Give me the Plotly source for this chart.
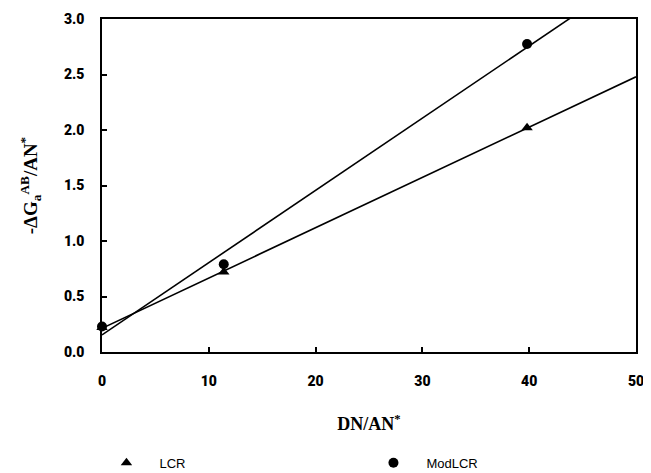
import numpy as np
import plotly.graph_objects as go

# Data
dn_an = [0.0, 11.4, 39.8]
lcr = [0.22, 0.72, 2.02]
modlcr = [0.23, 0.79, 2.775]
x_ticks = [0, 10, 20, 30, 40, 50]
y_ticks = [0.0, 0.5, 1.0, 1.5, 2.0, 2.5, 3.0]
x_range = [0, 50]
y_range = [0, 3.0]

fit_x = np.array(x_range, dtype=float)
lcr_fit = np.polyval(np.polyfit(dn_an, lcr, 1), fit_x)
mod_fit = np.polyval(np.polyfit(dn_an, modlcr, 1), fit_x)

fig = go.Figure()
fig.add_trace(go.Scatter(x=fit_x, y=lcr_fit, mode="lines", line=dict(color="black", width=1.6),
                         showlegend=False, hoverinfo="skip"))
fig.add_trace(go.Scatter(x=fit_x, y=mod_fit, mode="lines", line=dict(color="black", width=1.6),
                         showlegend=False, hoverinfo="skip"))
fig.add_trace(go.Scatter(x=dn_an, y=lcr, mode="markers", name="LCR",
                         marker=dict(symbol="triangle-up", size=10, color="black"),
                         cliponaxis=False))
fig.add_trace(go.Scatter(x=dn_an, y=modlcr, mode="markers", name="ModLCR",
                         marker=dict(symbol="circle", size=10, color="black"),
                         cliponaxis=False))

tickfont = dict(family="Roboto", size=14, color="black", weight=900)
axis_common = dict(showgrid=False, zeroline=False, showline=True, linecolor="black", linewidth=1.5,
                   mirror=True, ticks="inside", ticklen=5, tickwidth=1.5, tickcolor="black",
                   tickfont=tickfont)

fig.update_layout(
    width=643, height=465,
    margin=dict(l=94, r=15, t=11, b=121, autoexpand=False),
    paper_bgcolor="white", plot_bgcolor="white",
    xaxis=dict(range=x_range, tickvals=x_ticks, ticktext=[str(v) for v in x_ticks],
               ticklabelstandoff=15,
               title=dict(text="<b>DN/AN<sup>*</sup></b>", standoff=30,
                          font=dict(family="Liberation Serif", size=18, color="black")),
               **axis_common),
    yaxis=dict(range=y_range, tickvals=y_ticks, ticktext=[f"{v:.1f}" for v in y_ticks],
               ticklabelstandoff=13,
               title=dict(text="<b>-ΔG<sub>a</sub><sup>AB</sup>/AN<sup>*</sup></b>", standoff=21,
                          font=dict(family="Liberation Serif", size=19, color="black")),
               **axis_common),
    legend=dict(orientation="h", x=-0.016, xanchor="left", y=-0.333, yanchor="middle",
                font=dict(family="Liberation Sans", size=13, color="black"),
                entrywidth=196, entrywidthmode="pixels", itemwidth=56,
                bgcolor="rgba(0,0,0,0)"),
)

fig.write_html("out.html")
